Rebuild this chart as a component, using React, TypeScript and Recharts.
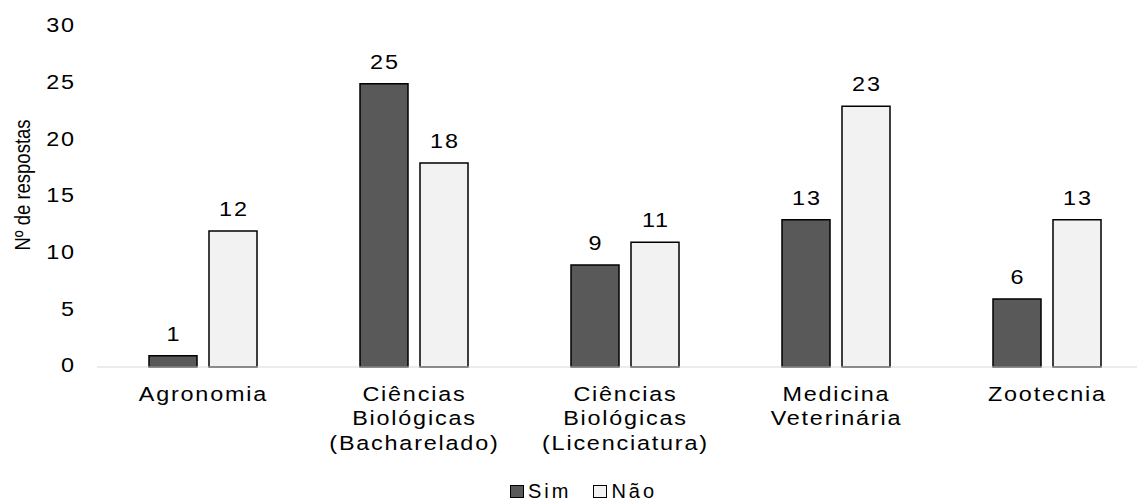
import React from 'react';
import { BarChart, Bar, XAxis, YAxis, Legend, LabelList } from 'recharts';

const CATEGORIES = [
  'Agronomia',
  'Ciências\nBiológicas\n(Bacharelado)',
  'Ciências\nBiológicas\n(Licenciatura)',
  'Medicina\nVeterinária',
  'Zootecnia',
];
const SIM = [1, 25, 9, 13, 6];
const NAO = [12, 18, 11, 23, 13];
const Y_TICKS = [0, 5, 10, 15, 20, 25, 30];

const FONT = '"Liberation Sans", Arial, sans-serif';
const SX = 1.2; // the reference text looks horizontally stretched
const LS = 1.5;
const SIM_COLOR = '#595959';
const NAO_COLOR = '#f2f2f2';

const data = CATEGORIES.map((c, i) => ({ name: c, sim: SIM[i], nao: NAO[i] }));

const XTick = (props: any) => {
  const { x, y, payload } = props;
  const lines = String(payload.value).split('\n');
  return (
    <g transform={`translate(${x},${y})`}>
      <text transform={`scale(${SX},1)`} textAnchor="middle" fill="#000" fontSize={19.5} fontFamily={FONT} letterSpacing={LS}>
        {lines.map((l, i) => (
          <tspan key={i} x={LS / 2} dy={i === 0 ? 34 : 24.5}>
            {l}
          </tspan>
        ))}
      </text>
    </g>
  );
};

const YTick = (props: any) => {
  const { x, y, payload } = props;
  return (
    <g transform={`translate(${x},${y})`}>
      <text transform={`scale(${SX},1)`} x={LS} dy={-1} textAnchor="end" dominantBaseline="central" fill="#000" fontSize={19.5} fontFamily={FONT} letterSpacing={LS}>
        {payload.value}
      </text>
    </g>
  );
};

const ValueLabel = (props: any) => {
  const { x, y, width, value } = props;
  return (
    <g transform={`translate(${x + width / 2},${y - 15})`}>
      <text transform={`scale(${SX},1)`} x={LS / 2} textAnchor="middle" fill="#000" fontSize={19.5} fontFamily={FONT} letterSpacing={LS}>
        {value}
      </text>
    </g>
  );
};

const YLabel = () => (
  <g transform="translate(22,185) scale(1.2,1) rotate(-90)">
    <text x={0} y={0} textAnchor="middle" dominantBaseline="central" fill="#000" fontSize={18.5} fontFamily={FONT}>
      Nº de respostas
    </text>
  </g>
);

const LegendContent = () => (
  <div style={{ display: 'flex', justifyContent: 'center', alignItems: 'center', fontFamily: FONT, fontSize: 20, lineHeight: '20px', letterSpacing: 3, color: '#000', paddingLeft: 30 }}>
    <span style={{ display: 'inline-block', width: 12, height: 11, background: SIM_COLOR, border: '1px solid #000', marginRight: 4 }} />
    <span style={{ marginRight: 22 }}>Sim</span>
    <span style={{ display: 'inline-block', width: 12, height: 11, background: NAO_COLOR, border: '1px solid #000', marginRight: 4 }} />
    <span>Não</span>
  </div>
);

export default function App() {
  return (
    <div style={{ position: 'absolute', left: 0, top: 0, width: 1137, height: 504, overflow: 'hidden', background: '#fff' }}>
      <BarChart
        width={1152}
        height={504}
        data={data}
        margin={{ top: 27, right: 0, left: 0, bottom: 0 }}
        barSize={48}
        barGap={12}
      >
        <XAxis
          dataKey="name"
          interval={0}
          tick={<XTick />}
          tickLine={false}
          tickSize={0}
          tickMargin={0}
          height={137}
          axisLine={{ stroke: '#d9d9d9', strokeWidth: 1 }}
        />
        <YAxis
          width={97}
          domain={[0, 30]}
          ticks={Y_TICKS}
          interval={0}
          axisLine={false}
          tickLine={false}
          tickSize={0}
          tickMargin={23}
          tick={<YTick />}
          label={<YLabel />}
        />
        <Legend
          verticalAlign="middle"
          layout="horizontal"
          content={<LegendContent />}
          wrapperStyle={{ position: 'absolute', top: 481, left: 0, width: 1137, height: 21 }}
        />
        <Bar dataKey="sim" name="Sim" fill={SIM_COLOR} stroke="#000" strokeWidth={1.5} isAnimationActive={false}>
          <LabelList dataKey="sim" content={<ValueLabel />} />
        </Bar>
        <Bar dataKey="nao" name="Não" fill={NAO_COLOR} stroke="#000" strokeWidth={1.5} isAnimationActive={false}>
          <LabelList dataKey="nao" content={<ValueLabel />} />
        </Bar>
      </BarChart>
    </div>
  );
}
